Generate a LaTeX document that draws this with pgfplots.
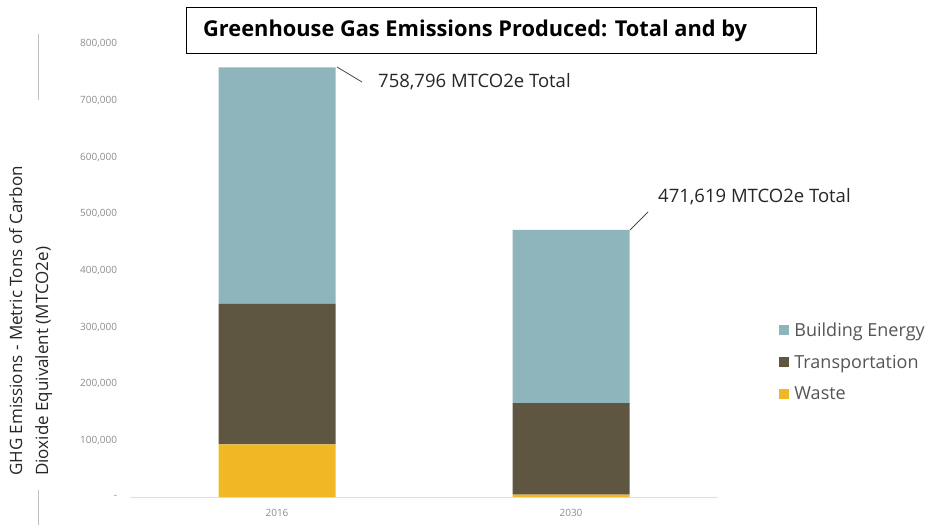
\documentclass[border=0pt]{standalone}
\usepackage{pgfplots}
\pgfplotsset{compat=1.18}
\usepackage{fontspec}
\setmainfont{Open Sans}
\definecolor{bldg}{HTML}{8FB5BC}
\definecolor{trans}{HTML}{5E5641}
\definecolor{waste}{HTML}{F0B824}
\definecolor{tickgray}{HTML}{8C8C8C}
\definecolor{leggray}{HTML}{555555}

\begin{document}
\begin{tikzpicture}[x=1pt,y=1pt]
\useasboundingbox (0,0) rectangle (933,525);
% decorative rules at the left
\draw[black!25, line width=0.8pt] (38,491) -- (38,425);
\draw[black!25, line width=0.8pt] (38,35) -- (38,0);
\begin{axis}[
  at={(130pt,28pt)}, anchor=south west,
  scale only axis, width=588pt, height=453pt,
  ybar stacked, bar width=117pt,
  xmin=-0.5, xmax=1.5, ymin=0, ymax=800000,
  xtick={0,1}, xticklabels={2016,2030},
  ytick={0,100000,200000,300000,400000,500000,600000,700000,800000},
  yticklabels={-,{100,000},{200,000},{300,000},{400,000},{500,000},{600,000},{700,000},{800,000}},
  scaled y ticks=false,
  axis x line*=bottom, axis y line*=left,
  y axis line style={draw=none},
  x axis line style={draw=black!12, line width=0.8pt, -},
  major tick length=0pt,
  tick label style={font=\fontsize{10}{12}\selectfont, text=tickgray},
  yticklabel style={xshift=-9.5pt},
  xticklabel style={yshift=-9pt},
  clip=false,
  reverse legend,
  legend style={at={(1.099,0.298)}, anchor=west, draw=none, fill=none,
    font=\fontsize{18}{21}\selectfont, text=leggray,
    row sep=13pt, cells={anchor=west}},
  legend image code/.code={\fill[#1,draw=none] (0pt,-5pt) rectangle (10pt,5pt);},
]
\addplot[fill=waste, draw=none] coordinates {(0,93000) (1,4000)};
\addplot[fill=trans, draw=none] coordinates {(0,248000) (1,162000)};
\addplot[fill=bldg, draw=none] coordinates {(0,417796) (1,305619)};
\legend{\hspace{3pt}Waste,\hspace{3pt}Transportation,\hspace{3pt}Building Energy}
\end{axis}
% total annotations
\draw[black!70, line width=0.8pt] (337,458) -- (362,443);
\node[anchor=west, inner sep=0, font=\fontsize{18.5}{22}\selectfont, text=black!85] at (378,443) {758,796 MTCO2e Total};
\draw[black!70, line width=0.8pt] (630,295) -- (648,313);
\node[anchor=west, inner sep=0, font=\fontsize{18.5}{22}\selectfont, text=black!85] at (658,328) {471,619 MTCO2e Total};
% title box
\draw[black, line width=0.8pt, fill=white] (186,518) rectangle (816,472);
\node[anchor=west, inner sep=0, font=\bfseries\fontsize{21.8}{26}\selectfont] at (203,494) {Greenhouse Gas Emissions Produced: Total and by};
% y label
\node[rotate=90, anchor=north west, inner sep=0, align=left, font=\fontsize{17}{26}\selectfont, text=black!85] at (9,49)
  {GHG Emissions - Metric Tons of Carbon\\Dioxide Equivalent (MTCO2e)};
\end{tikzpicture}
\end{document}
